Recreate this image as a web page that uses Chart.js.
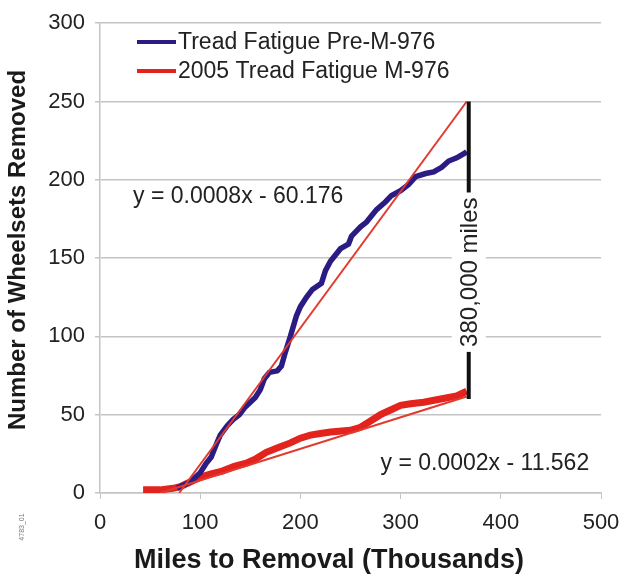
<!DOCTYPE html>
<html>
<head>
<meta charset="utf-8">
<script src="https://cdn.jsdelivr.net/npm/chart.js@4.4.0/dist/chart.umd.min.js"></script>
<style>
  html, body { margin: 0; padding: 0; background: #fff; }
  canvas { display: block; }
</style>
</head>
<body>
<canvas id="grafico" width="623" height="577"></canvas>
<script>
// miles to removal (thousands) and wheelsets removed
const preX = [77, 90, 100, 106, 111, 116, 120, 127, 133, 139, 145, 150, 155, 160, 164, 169, 177, 181, 185, 190, 196, 200, 206, 212, 221, 225, 230, 240, 248, 251, 260, 266, 276, 285, 291, 300, 308, 315, 325, 333, 341, 348, 356, 364, 366];
const preY = [3, 7, 13, 19, 23, 31, 37, 43, 47, 50, 55, 58, 61, 66, 73, 77, 78, 81, 90, 100, 113, 119, 125, 130, 134, 142, 148, 156, 159, 164, 170, 173, 181, 186, 190, 193, 197, 202, 204, 205, 208, 212, 214, 217, 218];

const m976X = [43, 60, 73, 80, 90, 100, 110, 122, 134, 146, 156, 166, 178, 190, 200, 210, 220, 230, 250, 260, 270, 280, 290, 300, 310, 323, 340, 356, 366];
const m976Y = [2, 2, 3, 4, 7, 10, 12, 14, 17, 19, 22, 26, 29, 32, 35, 37, 38, 39, 40, 42, 46, 50, 53, 56, 57, 58, 60, 62, 65];

// linear trend lines (end points)
const trendPreX = [79, 366];
const trendPreY = [0, 250];
const trendM976X = [60, 366];
const trendM976Y = [0, 61.6];

// gap marker between the two series
const gapX = [368, 368];
const gapY = [250, 60];

const legendLabels = ['Tread Fatigue Pre-M-976', '2005 Tread Fatigue M-976'];
const eqPre = 'y = 0.0008x - 60.176';
const eqM976 = 'y = 0.0002x - 11.562';
const gapLabel = '380,000 miles';
const xTitle = 'Miles to Removal (Thousands)';
const yTitle = 'Number of Wheelsets Removed';

const FONT = '"Liberation Sans", Arial, sans-serif';
const AZUL = '#2b1c84';
const VERMELHO = '#e3231d';

function pontos(xs, ys) {
    return xs.map((x, i) => ({ x: x, y: ys[i] }));
}

const anotacoes = {
    id: 'anotacoes',
    afterDraw(chart) {
        const ctx = chart.ctx;
        const xs = chart.scales.x;
        const ys = chart.scales.y;
        ctx.save();

        // label across the gap marker
        ctx.font = '24px ' + FONT;
        const gx = xs.getPixelForValue(gapX[0]);
        const gy = ys.getPixelForValue(141);
        const w = ctx.measureText(gapLabel).width;
        ctx.translate(gx, gy);
        ctx.rotate(-Math.PI / 2);
        ctx.fillStyle = '#fff';
        ctx.fillRect(-w / 2 - 5, -17, w + 10, 34);
        ctx.fillStyle = '#222';
        ctx.textAlign = 'center';
        ctx.textBaseline = 'middle';
        ctx.fillText(gapLabel, 0, 2);
        ctx.restore();

        ctx.save();
        ctx.font = '23px ' + FONT;
        ctx.fillStyle = '#222';
        ctx.textBaseline = 'middle';
        ctx.textAlign = 'left';
        ctx.fillText(eqPre, xs.getPixelForValue(33), ys.getPixelForValue(189));
        ctx.fillText(eqM976, xs.getPixelForValue(280), ys.getPixelForValue(18.6));

        // legend inside the plot
        const cores = [AZUL, VERMELHO];
        legendLabels.forEach((txt, i) => {
            const y = 42 + i * 29;
            ctx.strokeStyle = cores[i];
            ctx.lineWidth = 4;
            ctx.beginPath();
            ctx.moveTo(137, y);
            ctx.lineTo(176, y);
            ctx.stroke();
            ctx.fillStyle = '#222';
            ctx.fillText(txt, 178, y + 1);
        });

        // axis titles
        ctx.fillStyle = '#1a1a1a';
        ctx.textAlign = 'center';
        ctx.font = 'bold 27px ' + FONT;
        ctx.fillText(xTitle, 329, 561);
        ctx.save();
        ctx.font = 'bold 24px ' + FONT;
        ctx.translate(18, 250);
        ctx.rotate(-Math.PI / 2);
        ctx.fillText(yTitle, 0, 0);
        ctx.restore();

        // figure code
        ctx.font = '7px ' + FONT;
        ctx.fillStyle = '#777';
        ctx.translate(22, 527);
        ctx.rotate(-Math.PI / 2);
        ctx.fillText('4783_01', 0, 0);
        ctx.restore();
    }
};

const ctx = document.getElementById('grafico').getContext('2d');
new Chart(ctx, {
    type: 'scatter',
    data: {
        datasets: [
            { label: legendLabels[0], data: pontos(preX, preY), showLine: true, borderColor: AZUL, borderWidth: 5.5, pointRadius: 0, order: 2 },
            { label: legendLabels[1], data: pontos(m976X, m976Y), showLine: true, borderColor: VERMELHO, borderWidth: 7, pointRadius: 0, order: 3 },
            { label: 'trend pre', data: pontos(trendPreX, trendPreY), showLine: true, borderColor: '#e23a2e', borderWidth: 2, pointRadius: 0, order: 1 },
            { label: 'trend m976', data: pontos(trendM976X, trendM976Y), showLine: true, borderColor: '#e23a2e', borderWidth: 2, pointRadius: 0, order: 1 },
            { label: 'gap', data: pontos(gapX, gapY), showLine: true, borderColor: '#111', borderWidth: 4, pointRadius: 0, order: 0 }
        ]
    },
    options: {
        responsive: false,
        animation: false,
        layout: { padding: { top: 16, right: 0, left: 0, bottom: 0 } },
        plugins: {
            legend: { display: false },
            tooltip: { enabled: false }
        },
        scales: {
            x: {
                type: 'linear',
                min: 0,
                max: 500,
                ticks: { stepSize: 100, color: '#222', font: { family: FONT, size: 22 }, padding: 11, maxRotation: 0 },
                grid: { drawOnChartArea: false, drawTicks: true, tickLength: 6, color: '#c4c4c4' },
                border: { color: '#c4c4c4', width: 1.5 },
                afterFit(scale) {
                    scale.height = 84;
                    scale.paddingRight = 22;
                }
            },
            y: {
                min: 0,
                max: 300,
                ticks: { stepSize: 50, color: '#222', font: { family: FONT, size: 22 }, padding: 10 },
                grid: { color: '#c4c4c4', lineWidth: 1.5, tickLength: 5 },
                border: { color: '#c4c4c4', width: 1.5 },
                afterFit(scale) { scale.width = 100; }
            }
        }
    },
    plugins: [anotacoes]
});
</script>
</body>
</html>
